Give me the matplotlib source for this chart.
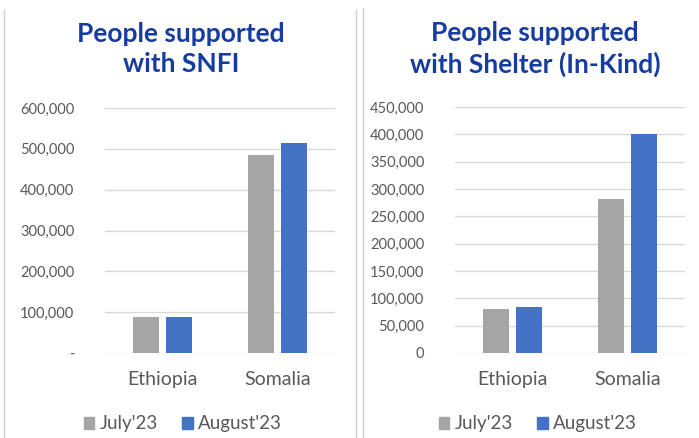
import matplotlib.pyplot as plt
import numpy as np
from matplotlib.lines import Line2D
from matplotlib.patches import Patch

plt.rcParams['font.family'] = ['Lato', 'DejaVu Sans']

# data
countries = ['Ethiopia', 'Somalia']
series_names = ["July'23", "August'23"]
snfi_july = [88000, 485000]
snfi_aug = [88000, 515000]
shelter_july = [81000, 282000]
shelter_aug = [84000, 401000]

snfi_ticks = [0, 100000, 200000, 300000, 400000, 500000, 600000]
shelter_ticks = [0, 50000, 100000, 150000, 200000, 250000, 300000, 350000, 400000, 450000]

gray = '#A5A5A5'
blue = '#4472C4'
title_col = '#163CA0'
text_col = '#595959'
grid_col = '#D9D9D9'

W, H = 699, 438
fig = plt.figure(figsize=(W / 100, H / 100), dpi=100)


def px(x, y):
    return x / W, 1 - y / H


def draw_panel(rect, july, aug, ticks, zero_label, title, title_x, legend_x):
    ax = fig.add_axes(rect)
    x = np.arange(len(countries))
    w = 0.23
    off = 0.145
    ax.bar(x - off, july, w, color=gray, zorder=3)
    ax.bar(x + off, aug, w, color=blue, zorder=3)
    ax.set_xlim(-0.5, len(countries) - 0.5)
    ax.set_ylim(0, ticks[-1])
    ax.set_yticks(ticks)
    labels = [f'{t:,}' for t in ticks]
    labels[0] = zero_label
    ax.set_yticklabels(labels)
    ax.set_xticks(x)
    ax.set_xticklabels(countries)
    ax.yaxis.grid(True, color=grid_col, linewidth=1, zorder=0)
    for s in ax.spines.values():
        s.set_visible(False)
    ax.tick_params(axis='y', length=0, pad=22, labelsize=10.5, labelcolor=text_col)
    ax.tick_params(axis='x', length=0, pad=13, labelsize=14, labelcolor=text_col)

    fx, fy = px(title_x, 49)
    fig.text(fx, fy, title, ha='center', va='center', color=title_col,
             fontsize=19, fontweight='bold', linespacing=1.3)

    handles = [Patch(color=gray), Patch(color=blue)]
    lx, ly = px(legend_x, 424)
    fig.legend(handles, series_names, loc='center', bbox_to_anchor=(lx, ly),
               ncol=2, frameon=False, fontsize=13.5, labelcolor=text_col,
               handlelength=0.55, handleheight=0.55, handletextpad=0.3,
               columnspacing=1.3)
    return ax


draw_panel([105 / W, 1 - 353 / H, 230 / W, 245 / H], snfi_july, snfi_aug,
           snfi_ticks, '-', 'People supported\nwith SNFI', 181, 183)
draw_panel([455 / W, 1 - 353 / H, 230 / W, 246 / H], shelter_july, shelter_aug,
           shelter_ticks, '0', 'People supported\nwith Shelter (In-Kind)', 535, 538)

# frame lines
for xpos, ytop in [(4, 10), (356, 10), (363, 8)]:
    fig.add_artist(Line2D([xpos / W, xpos / W], [0, 1 - ytop / H],
                          transform=fig.transFigure, color='#D0D0D0', linewidth=1))

plt.savefig('out.png', dpi=100)
